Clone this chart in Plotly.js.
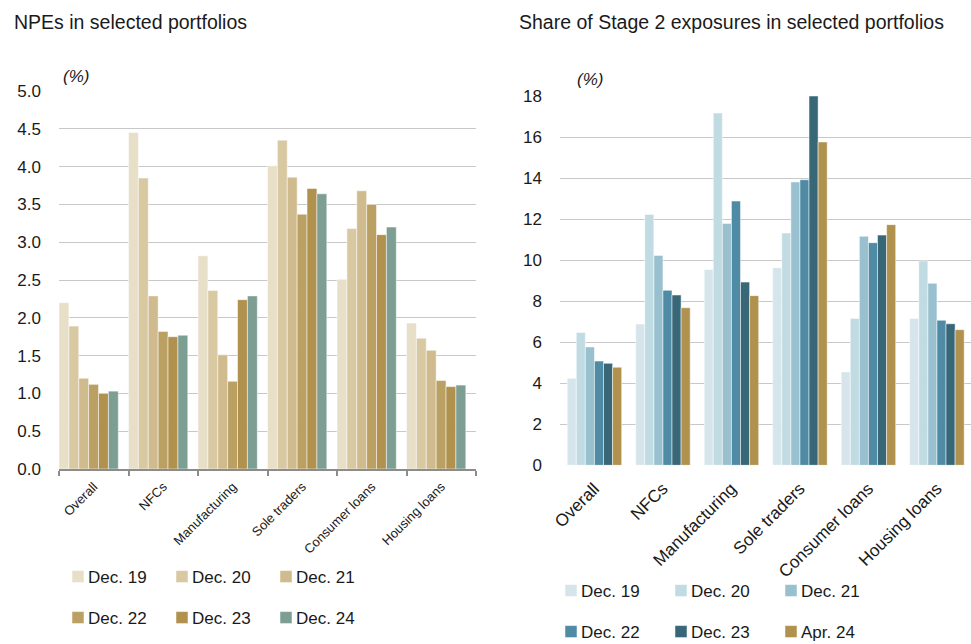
<!DOCTYPE html>
<html>
<head>
<meta charset="utf-8">
<script src="https://cdn.plot.ly/plotly-3.0.1.min.js"></script>
<style>
  html, body { margin: 0; padding: 0; background: #ffffff; overflow: hidden; }
  #chart { width: 971px; height: 644px; }
</style>
</head>
<body>
<div id="chart"></div>
<script>
// Portfolio categories shared by both panels
const categories = ['Overall', 'NFCs', 'Manufacturing', 'Sole traders', 'Consumer loans', 'Housing loans'];

// NPE ratios (%)
const npeDec19 = [2.20, 4.45, 2.82, 4.01, 2.51, 1.93];
const npeDec20 = [1.89, 3.85, 2.36, 4.35, 3.18, 1.73];
const npeDec21 = [1.20, 2.29, 1.51, 3.86, 3.68, 1.57];
const npeDec22 = [1.12, 1.82, 1.16, 3.37, 3.50, 1.17];
const npeDec23 = [1.00, 1.75, 2.24, 3.71, 3.10, 1.09];
const npeDec24 = [1.03, 1.77, 2.29, 3.64, 3.20, 1.11];
const npePeriods = ['Dec. 19', 'Dec. 20', 'Dec. 21', 'Dec. 22', 'Dec. 23', 'Dec. 24'];

// Share of Stage 2 exposures (%)
const s2Dec19 = [4.24, 6.89, 9.54, 9.63, 4.55, 7.16];
const s2Dec20 = [6.47, 12.23, 17.17, 11.32, 7.16, 9.96];
const s2Dec21 = [5.77, 10.23, 11.79, 13.81, 11.16, 8.87];
const s2Dec22 = [5.08, 8.53, 12.88, 13.92, 10.85, 7.07];
const s2Dec23 = [4.97, 8.30, 8.93, 18.00, 11.22, 6.90];
const s2Apr24 = [4.78, 7.68, 8.27, 15.76, 11.73, 6.61];
const s2Periods = ['Dec. 19', 'Dec. 20', 'Dec. 21', 'Dec. 22', 'Dec. 23', 'Apr. 24'];

// Colours
const npeColors = ['#e8dfc8', '#d9c9a3', '#cfbb8d', '#bba063', '#b0914e', '#7d9e92'];
const s2Colors  = ['#d6e5ec', '#c1dbe3', '#99c0ce', '#4f8ba4', '#386778', '#b0914e'];

const W = 971, H = 644;
const FONT = 'Liberation Sans, Arial, sans-serif';
const INK = '#1a1a1a';
const px = v => v / W;          // horizontal pixel -> paper
const py = v => 1 - v / H;      // vertical pixel -> paper

// Bars of one panel, laid side by side inside each category slot
function barTraces(seriesList, names, colors, axisSuffix, barW, startOff, legendFor) {
  return seriesList.map((vals, i) => ({
    type: 'bar',
    x: categories,
    y: vals,
    name: names[i],
    xaxis: 'x' + axisSuffix,
    yaxis: 'y' + axisSuffix,
    width: barW,
    offset: startOff + i * barW,
    marker: { color: colors[i], line: { color: '#ffffff', width: 0.5 } },
    legend: legendFor(i),
    hoverinfo: 'x+y+name'
  }));
}

const traces = [
  ...barTraces([npeDec19, npeDec20, npeDec21, npeDec22, npeDec23, npeDec24],
    npePeriods, npeColors, '', 0.1422, -0.5, i => (i < 3 ? 'legend' : 'legend2')),
  ...barTraces([s2Dec19, s2Dec20, s2Dec21, s2Dec22, s2Dec23, s2Apr24],
    s2Periods, s2Colors, '2', 0.1326, -0.395, i => (i < 3 ? 'legend3' : 'legend4'))
];

const legendBase = {
  orientation: 'h',
  xanchor: 'left',
  yanchor: 'middle',
  font: { family: FONT, size: 17, color: INK },
  bgcolor: 'rgba(0,0,0,0)',
  borderwidth: 0,
  entrywidthmode: 'pixels',
  itemclick: false,
  itemdoubleclick: false,
  traceorder: 'normal',
  valign: 'middle'
};

const layout = {
  width: W,
  height: H,
  margin: { l: 0, r: 0, t: 0, b: 0, autoexpand: false },
  paper_bgcolor: '#ffffff',
  plot_bgcolor: '#ffffff',
  barmode: 'overlay',
  font: { family: FONT, color: INK },
  xaxis: {
    domain: [px(59), px(476)],
    type: 'category',
    tickson: 'boundaries',
    showgrid: false,
    showline: true,
    linecolor: '#8c8c8c',
    linewidth: 2,
    ticks: 'outside',
    ticklen: 5,
    tickcolor: '#8c8c8c',
    tickwidth: 1.5,
    tickangle: -45,
    ticklabelstandoff: 3,
    tickfont: { family: FONT, size: 13, color: INK },
    fixedrange: true
  },
  yaxis: {
    domain: [py(469), py(91)],
    range: [0, 5],
    dtick: 0.5,
    tickformat: '.1f',
    showgrid: true,
    gridcolor: '#c8c8c8',
    gridwidth: 1,
    zeroline: false,
    showline: false,
    ticks: '',
    ticklabelstandoff: 17,
    tickfont: { family: FONT, size: 17, color: INK },
    fixedrange: true
  },
  xaxis2: {
    domain: [px(560), 1],
    anchor: 'y2',
    type: 'category',
    showgrid: false,
    showline: false,
    ticks: '',
    tickangle: -45,
    ticklabelstandoff: 9,
    tickfont: { family: FONT, size: 17.2, color: INK },
    fixedrange: true
  },
  yaxis2: {
    domain: [py(465.3), py(96)],
    anchor: 'x2',
    range: [0, 18],
    dtick: 2,
    showgrid: true,
    gridcolor: '#c8c8c8',
    gridwidth: 1,
    zeroline: false,
    showline: false,
    ticks: '',
    ticklabelstandoff: 17,
    tickfont: { family: FONT, size: 17, color: INK },
    fixedrange: true
  },
  legend:  Object.assign({}, legendBase, { x: px(48),  y: py(577), entrywidth: 59 }),
  legend2: Object.assign({}, legendBase, { x: px(48),  y: py(618), entrywidth: 59 }),
  legend3: Object.assign({}, legendBase, { x: px(541), y: py(591), entrywidth: 65 }),
  legend4: Object.assign({}, legendBase, { x: px(541), y: py(632), entrywidth: 65 }),
  annotations: [
    { text: 'NPEs in selected portfolios', xref: 'paper', yref: 'paper',
      x: px(12), y: py(22), xanchor: 'left', yanchor: 'middle', showarrow: false,
      font: { family: FONT, size: 19.5, color: INK } },
    { text: 'Share of Stage 2 exposures in selected portfolios', xref: 'paper', yref: 'paper',
      x: px(517), y: py(22), xanchor: 'left', yanchor: 'middle', showarrow: false,
      font: { family: FONT, size: 19.5, color: INK } },
    { text: '<i>(%)</i>', xref: 'paper', yref: 'paper',
      x: px(61), y: py(77), xanchor: 'left', yanchor: 'middle', showarrow: false,
      font: { family: FONT, size: 17, color: INK } },
    { text: '<i>(%)</i>', xref: 'paper', yref: 'paper',
      x: px(575), y: py(79), xanchor: 'left', yanchor: 'middle', showarrow: false,
      font: { family: FONT, size: 17, color: INK } }
  ],
  showlegend: true
};

Plotly.newPlot('chart', traces, layout, { displayModeBar: false, responsive: false })
  .then(gd => {
    // Sit each legend swatch close to its label (all four legends)
    gd.querySelectorAll('.legendsymbols').forEach(el => {
      const t = el.getAttribute('transform') || '';
      el.setAttribute('transform', t + ' translate(10,0)');
    });
  });
</script>
</body>
</html>
